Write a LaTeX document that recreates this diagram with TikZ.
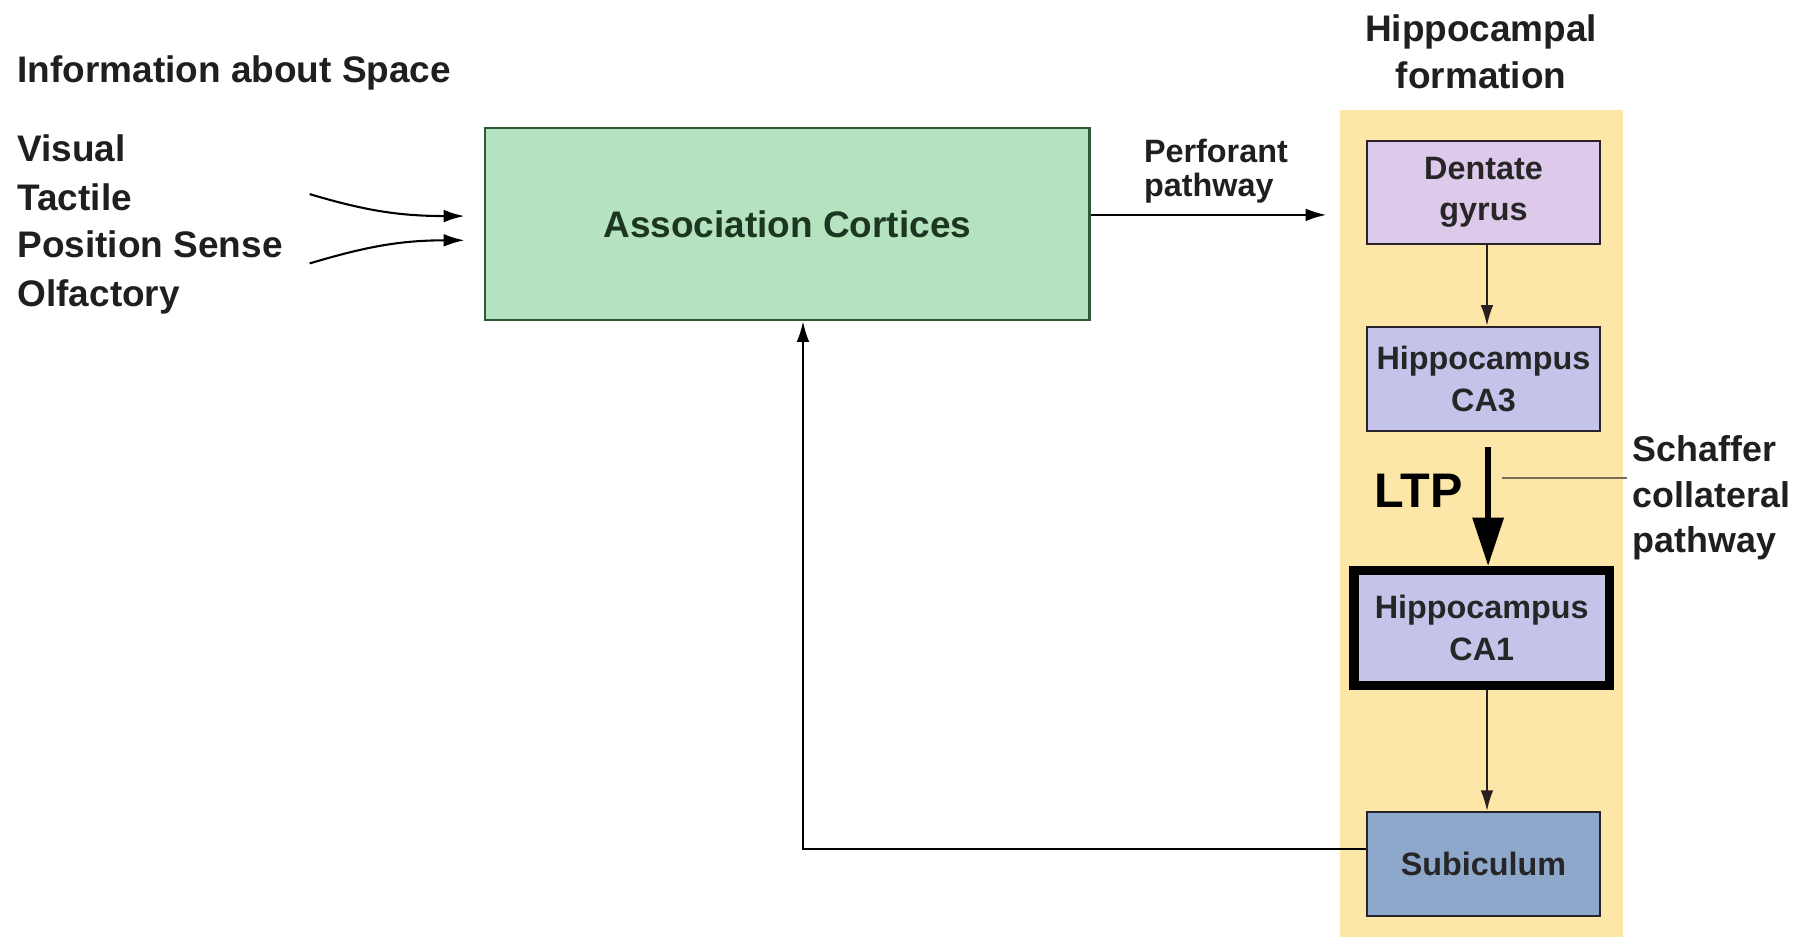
\documentclass[tikz,border=0pt]{standalone}
\usepackage{fontspec}
\setmainfont{Liberation Sans}
\usetikzlibrary{arrows.meta,calc}
\definecolor{assocfill}{HTML}{B5E2BF}
\definecolor{assocdraw}{HTML}{2F5A38}
\definecolor{dentfill}{HTML}{DDC9EA}
\definecolor{cafill}{HTML}{C4C4EA}
\definecolor{subfill}{HTML}{8EA8CC}
\definecolor{stripfill}{HTML}{FCE6A8}
\definecolor{boxdraw}{HTML}{2A2228}
\definecolor{linkgray}{HTML}{7A6C58}
\definecolor{innerarrow}{HTML}{2A1E1E}
\tikzset{
  lbl/.style={font=\fontsize{32}{36}\selectfont\bfseries, text=black!88, inner sep=0pt},
  smalllbl/.style={font=\fontsize{28}{36}\selectfont\bfseries, text=black!88, inner sep=0pt, align=left},
  hbox/.style={draw=boxdraw, line width=2pt, minimum width=202pt, minimum height=90pt, inner sep=0pt, align=center, font=\fontsize{28}{36}\selectfont\bfseries, text=black!85},
  thin arrow/.style={line width=1.8pt, -{Latex[length=18pt,width=11pt]}},
}
\begin{document}
\begin{tikzpicture}[x=1pt,y=-1pt]
\useasboundingbox (0,0) rectangle (1564,811);
% strip
\fill[stripfill] (1160,95) rectangle (1405,811);
% left labels
\node[lbl, anchor=base west] (info) at (15,71) {Information about Space};
\node[lbl, anchor=base west] (vis) at (15,140) {Visual};
\node[lbl, anchor=base west] (tac) at (15,182) {Tactile};
\node[lbl, anchor=base west] (pos) at (15,223) {Position Sense};
\node[lbl, anchor=base west] (olf) at (15,265) {Olfactory};
% association
\node[draw=assocdraw, fill=assocfill, line width=2pt, minimum width=523pt, minimum height=166pt, inner sep=0pt,
  font=\fontsize{32}{36}\selectfont\bfseries, text=assocdraw!60!black] (assoc) at (681.5,194) {Association Cortices};
% incoming curves
\coordinate (inA) at (268,168);
\coordinate (inAend) at (402,187);
\coordinate (inB) at (268,228);
\coordinate (inBend) at (402,208);
\draw[thin arrow] (inA) .. controls (315,182) and (345,187) .. (inAend);
\draw[thin arrow] (inB) .. controls (315,214) and (345,208) .. (inBend);
% title
\node[lbl, align=center, font=\fontsize{32}{41}\selectfont\bfseries] (title) at (1282,45) {Hippocampal\\formation};
% boxes
\node[hbox, fill=dentfill, minimum height=89pt] (dent) at (1284,166.5) {Dentate\\gyrus};
\node[hbox, fill=cafill] (ca3) at (1284,328) {Hippocampus\\CA3};
\node[hbox, fill=cafill, draw=black, line width=8pt, minimum width=221pt, minimum height=99pt] (ca1) at (1282.5,543.5) {Hippocampus\\CA1};
\node[hbox, fill=subfill] (sub) at (1284,748) {Subiculum};
% perforant
\coordinate (perfEnd) at (1148,186);
\draw[thin arrow] (assoc.east |- perfEnd) -- (perfEnd);
\node[smalllbl, anchor=base west] (perf) at (990,141) {Perforant};
\node[smalllbl, anchor=base west] (perf2) at (990,170) {pathway};
% internal arrows
\draw[thin arrow, innerarrow] ([xshift=3pt]dent.south) -- ([xshift=3pt]ca3.north);
\draw[line width=5.5pt, -{Triangle[length=42pt,width=26pt]}] ([xshift=4pt]ca3.south) ++(0,13) -- ([xshift=5.5pt]ca1.north);
\draw[thin arrow, innerarrow] ([xshift=4.5pt]ca1.south) -- ([xshift=3pt]sub.north);
% LTP
\node[font=\fontsize{42}{46}\selectfont\bfseries, inner sep=0pt] (ltp) at (1228,425) {LTP};
% schaffer
\coordinate (schA) at (1300,414);
\coordinate (schB) at (1408,414);
\draw[linkgray, line width=1.6pt] (schA) -- (schB);
\node[lbl, align=left, anchor=west, font=\fontsize{31}{39.5}\selectfont\bfseries] (sch) at (1413,431) {Schaffer\\collateral\\pathway};
% feedback
\coordinate (fbTurn) at (695,735);
\draw[thin arrow] (sub.west |- fbTurn) -- (fbTurn) -- (assoc.south -| fbTurn);
\end{tikzpicture}
\end{document}
